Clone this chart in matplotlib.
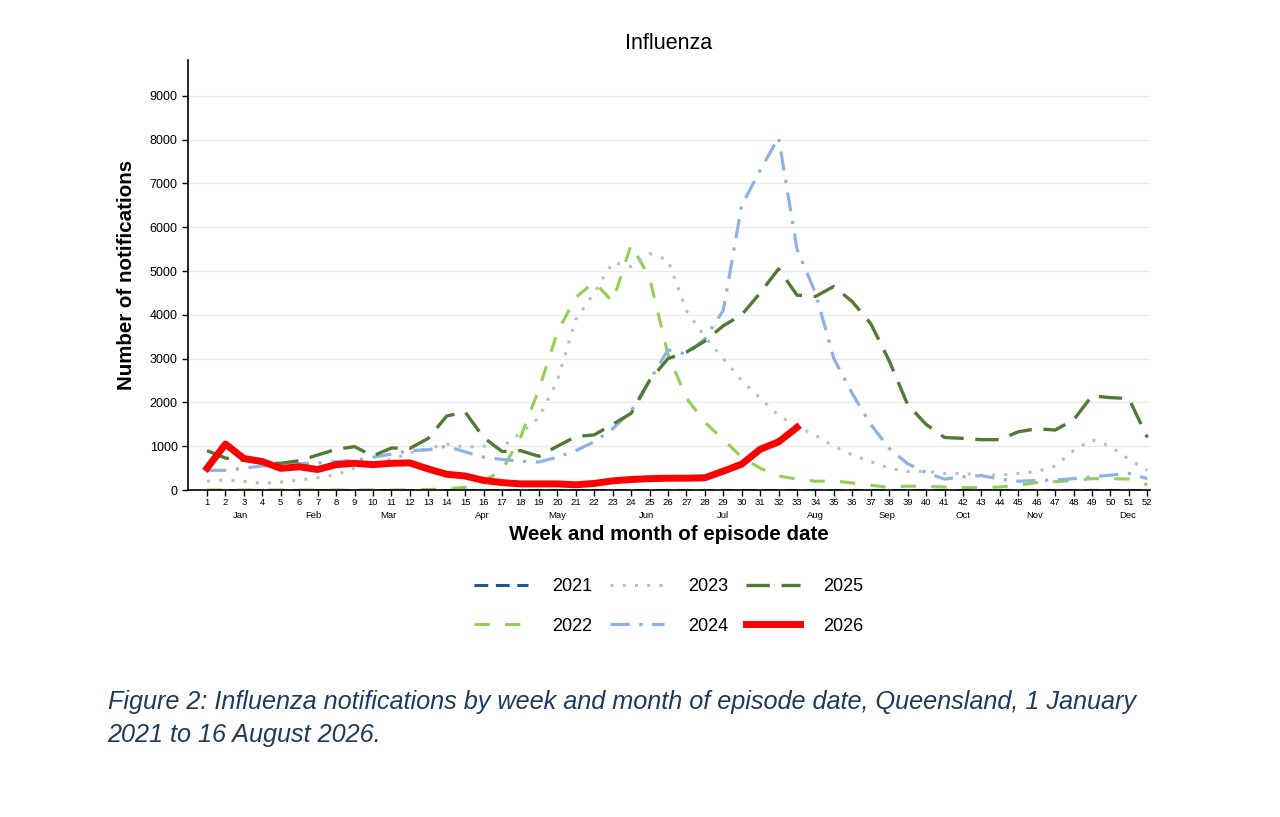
import numpy as np
import matplotlib
matplotlib.use('Agg')
import matplotlib.pyplot as plt
import matplotlib.transforms as mtransforms

plt.rcParams['font.family'] = ['Liberation Sans', 'DejaVu Sans']

# weekly notifications, weeks 1-52
weeks = list(range(1, 53))

y2021 = [10] * 52

y2022 = [0, 0, 0, 0, 0, 0, 0, 0, 0, 0, 0, 0, 10, 30, 60, 200, 450, 1200, 2300, 3600,
         4400, 4750, 4300, 5600, 4850, 3100, 2100, 1550, 1150, 750, 500, 320, 250, 200, 210, 160,
         110, 60, 90, 80, 70, 60, 50, 70, 110, 170, 190, 220, 260, 260, 250, 120]

y2023 = [200, 230, 200, 150, 180, 230, 280, 350, 500, 600, 700, 850, 950, 1050, 980, 1000,
         980, 1300, 1650, 2500, 3900, 4500, 5200, 5100, 5400, 5250, 4100, 3500, 3000, 2500, 2100, 1700,
         1450, 1250, 1000, 800, 650, 500, 420, 430, 380, 380, 340, 340, 380, 420, 550, 900,
         1150, 1000, 700, 450]

y2024 = [450, 450, 500, 550, 580, 600, 620, 650, 680, 750, 820, 900, 920, 1000, 870, 750,
         700, 660, 640, 750, 900, 1100, 1400, 1800, 2500, 3200, 3100, 3450, 4100, 6500, 7300, 8050,
         5500, 4500, 3000, 2200, 1500, 950, 600, 400, 250, 300, 330, 250, 200, 220, 230, 260,
         300, 340, 380, 260]

y2025 = [900, 730, 680, 620, 610, 670, 800, 930, 990, 780, 960, 950, 1180, 1690, 1780, 1200,
         880, 900, 770, 1000, 1220, 1260, 1500, 1750, 2500, 3000, 3150, 3400, 3750, 4000, 4500, 5050,
         4450, 4420, 4650, 4300, 3800, 2950, 1950, 1500, 1200, 1180, 1150, 1150, 1330, 1400, 1370, 1600,
         2150, 2110, 2090, 1200]

weeks_2026 = list(range(1, 34))
y2026 = [500, 1050, 720, 650, 495, 530, 470, 580, 610, 580, 610, 620, 480, 360, 320, 220,
         170, 140, 140, 140, 120, 150, 210, 240, 260, 270, 270, 280, 430, 590, 930, 1100,
         1430]

months = ['Jan', 'Feb', 'Mar', 'Apr', 'May', 'Jun', 'Jul', 'Aug', 'Sep', 'Oct', 'Nov', 'Dec']
month_weeks = [2.8, 6.75, 10.85, 15.95, 20.0, 24.85, 29.0, 34.0, 37.9, 42.0, 45.9, 50.95]

fig = plt.figure(figsize=(12.8, 8.17), dpi=100)
ax = fig.add_axes([0.1469, 0.4002, 0.7516, 0.5264])

ax.plot(weeks, y2021, color='#1F5591', lw=2.2, ls=(0, (4.5, 2.5)), label='2021', zorder=3)
ax.plot(weeks, y2022, color='#92D050', lw=2.2, ls=(0, (5, 5)), label='2022', zorder=3)
ax.plot(weeks, y2023, color='#BFBFBF', lw=2.2, ls=(0, (1, 3)), label='2023', zorder=3,
        dash_capstyle='butt')
ax.plot(weeks, y2024, color='#8DB3E2', lw=2.3, ls=(0, (6, 3, 1, 3)), label='2024', zorder=3)
ax.plot(weeks, y2025, color='#4F7B35', lw=2.4, ls=(0, (7, 3.5)), label='2025', zorder=4)
ax.plot(weeks_2026, y2026, color='#FF0000', lw=5, label='2026', zorder=5,
        solid_joinstyle='round')

ax.set_xlim(-0.03, 52.15)
ax.set_ylim(0, 9820)
ax.set_yticks(range(0, 10000, 1000))
ax.set_xticks(weeks)
ax.tick_params(axis='x', labelsize=6.8, length=4, width=1, pad=1.5)
ax.tick_params(axis='y', labelsize=9, length=4, width=1)
ax.grid(axis='y', color='#EBEBEB', lw=1)
ax.set_axisbelow(True)
for s in ['top', 'right']:
    ax.spines[s].set_visible(False)
for s in ['left', 'bottom']:
    ax.spines[s].set_linewidth(1.2)
    ax.spines[s].set_zorder(6)

trans = mtransforms.blended_transform_factory(ax.transData, ax.transAxes)
for m, w in zip(months, month_weeks):
    ax.text(w, -0.048, m, transform=trans, ha='center', va='top', fontsize=6.8)

ax.set_title('Influenza', fontsize=15.5, pad=8)
ax.set_ylabel('Number of notifications', fontsize=14.8, fontweight='bold', labelpad=10)
ax.set_xlabel('Week and month of episode date', fontsize=14.8, fontweight='bold', labelpad=13)

ax.legend(ncol=3, loc='upper center', bbox_to_anchor=(0.5, -0.167), frameon=False,
          fontsize=13, handlelength=3.0, handletextpad=1.3, columnspacing=1.0,
          labelspacing=1.25)

fig.text(0.084, 0.1405, 'Figure 2: Influenza notifications by week and month of episode date, Queensland, 1 January',
         fontsize=18.2, style='italic', color='#1F3A60', va='center')
fig.text(0.084, 0.1005, '2021 to 16 August 2026.',
         fontsize=18.2, style='italic', color='#1F3A60', va='center')

fig.savefig('out.png', dpi=100)
